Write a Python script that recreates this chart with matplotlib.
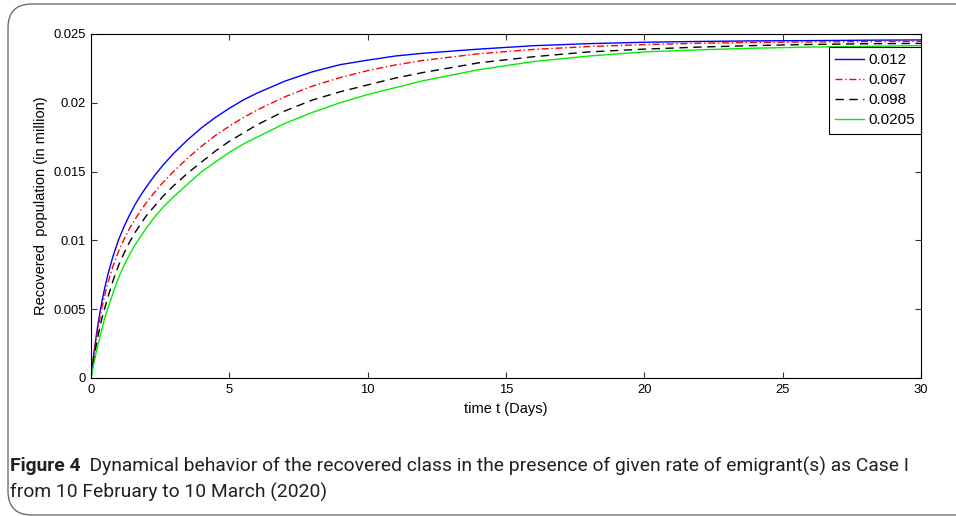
import matplotlib
matplotlib.use("Agg")
import matplotlib.pyplot as plt
from matplotlib.patches import FancyBboxPatch

# ---- data ----
t_days = [0, 0.05, 0.1, 0.2, 0.3, 0.4, 0.5, 0.6, 0.8, 1.0, 1.2, 1.4, 1.6, 1.8, 2.0, 2.3, 2.6,
          3.0, 3.5, 4.0, 4.5, 5.0, 5.5, 6, 7, 8, 9, 10, 11, 12, 14, 16, 18, 20, 22, 24, 26,
          28, 30]
r_012 = [0, 0.0009, 0.00173, 0.00322, 0.00449, 0.00561, 0.00658, 0.00744, 0.00888, 0.01006,
         0.01103, 0.01187, 0.01263, 0.01329, 0.01389, 0.01472, 0.01546, 0.01635, 0.01732,
         0.01819, 0.01894, 0.0196, 0.0202, 0.0207, 0.02157, 0.02225, 0.02277, 0.0231,
         0.0234, 0.0236, 0.0239, 0.02415, 0.0243, 0.0244, 0.02446, 0.0245, 0.02452,
         0.02455, 0.02457]
r_067 = [0, 0.00083, 0.0016, 0.00297, 0.00414, 0.00517, 0.00605, 0.00685, 0.00816, 0.00922,
         0.01011, 0.01089, 0.01156, 0.01219, 0.01274, 0.0135, 0.01421, 0.01504, 0.01599,
         0.01685, 0.01763, 0.0183, 0.01892, 0.01947, 0.02043, 0.02121, 0.02183, 0.02234,
         0.02275, 0.02308, 0.02356, 0.02388, 0.02409, 0.02423, 0.02433, 0.02439, 0.02442,
         0.02445, 0.02447]
r_098 = [0, 0.0007, 0.0013, 0.0025, 0.0035, 0.0044, 0.0051, 0.0058, 0.0071, 0.0082, 0.0091,
         0.0099, 0.0106, 0.0112, 0.0118, 0.0125, 0.0132, 0.0140, 0.0149, 0.0157, 0.0165,
         0.0172, 0.0178, 0.0184, 0.0194, 0.0202, 0.0208, 0.0213, 0.0218, 0.0222, 0.0229,
         0.02335, 0.0237, 0.0239, 0.02405, 0.02416, 0.02424, 0.02429, 0.02432]
r_0205 = [0, 0.0005, 0.0010, 0.0020, 0.0028, 0.0036, 0.0044, 0.0050, 0.0062, 0.0073, 0.0082,
          0.0090, 0.0097, 0.0103, 0.0109, 0.0117, 0.0124, 0.0132, 0.0141, 0.0150, 0.0157,
          0.0164, 0.0170, 0.0175, 0.0185, 0.0193, 0.0200, 0.0206, 0.0211, 0.0216, 0.0224,
          0.0230, 0.0234, 0.0237, 0.02385, 0.02397, 0.02405, 0.0241, 0.02416]
labels = ["0.012", "0.067", "0.098", "0.0205"]
x_ticks = [0, 5, 10, 15, 20, 25, 30]
y_ticks = [0, 0.005, 0.01, 0.015, 0.02, 0.025]
y_tick_labels = ["0", "0.005", "0.01", "0.015", "0.02", "0.025"]
x_label = "time t (Days)"
y_label = "Recovered  population (in million)"
cap_bold = "Figure 4"
cap_line1 = "  Dynamical behavior of the recovered class in the presence of given rate of emigrant(s) as Case I"
cap_line2 = "from 10 February to 10 March (2020)"

W, H = 956, 516
fig = plt.figure(figsize=(W / 100, H / 100), dpi=100)
fig.patch.set_facecolor("white")

# outer rounded frame
frame = FancyBboxPatch((8 / W, 1 / H), 980 / W, 511 / H,
                       boxstyle="round,pad=0,rounding_size=0.025",
                       transform=fig.transFigure, facecolor="none",
                       edgecolor="#6e6e6e", linewidth=1.0, mutation_aspect=W / H)
fig.patches.append(frame)

ax = fig.add_axes([91 / W, 1 - 378 / H, 830 / W, 344 / H])
font = ["Liberation Sans", "DejaVu Sans"]

ax.plot(t_days, r_012, color="#0000ff", lw=1.0, ls="-", label=labels[0])
ax.plot(t_days, r_067, color="#ff0000", lw=1.0, ls=(0, (5, 2, 1, 2)), label=labels[1])
ax.plot(t_days, r_098, color="#000000", lw=1.0, ls=(0, (6, 4)), label=labels[2])
ax.plot(t_days, r_0205, color="#00ee00", lw=1.0, ls="-", label=labels[3])

ax.set_xlim(0, 30)
ax.set_ylim(0, 0.025)
ax.set_xticks(x_ticks)
ax.set_xticklabels([str(v) for v in x_ticks], fontfamily=font, fontsize=9.4)
ax.set_yticks(y_ticks)
ax.set_yticklabels(y_tick_labels, fontfamily=font, fontsize=9.4)
ax.tick_params(direction="in", length=4, width=0.8, top=True, right=True,
               color="#333333", pad=4)
for s in ax.spines.values():
    s.set_linewidth(0.8)
ax.set_xlabel(x_label, fontfamily=font, fontsize=10.5, labelpad=5)
ax.set_ylabel(y_label, fontfamily=font, fontsize=10.5, labelpad=4)

leg = ax.legend(loc="upper right", bbox_to_anchor=(1.0, 1 - 13 / 344),
                borderaxespad=0, fancybox=False, framealpha=1, edgecolor="black",
                prop={"family": font, "size": 11}, handlelength=1.85,
                labelspacing=0.4, borderpad=0.4, handletextpad=0.3)
leg.get_frame().set_linewidth(0.8)

# caption
capfont = ["Roboto", "DejaVu Sans"]
tb = fig.text(10 / W, 1 - 466 / H, cap_bold, fontfamily=capfont, fontweight="bold",
              fontsize=10.5, va="center", ha="left", color="#231f20")
fig.canvas.draw()
r = fig.canvas.get_renderer()
bb = tb.get_window_extent(r)
t1 = fig.text(bb.x1 / W, 1 - 466 / H, cap_line1, fontfamily=capfont,
              fontsize=10.5, va="center", ha="left", color="#231f20")
t2 = fig.text(10 / W, 1 - 492 / H, cap_line2, fontfamily=capfont,
              fontsize=10.5, va="center", ha="left", color="#231f20")
fig.canvas.draw()
bb1 = t1.get_window_extent(r)
target = 912
scale = (target - 10) / (bb1.x1 - 10)
for t in (tb, t1, t2):
    t.set_fontsize(10.5 * scale)
fig.canvas.draw()
bb = tb.get_window_extent(r)
t1.set_x(bb.x1 / W)

fig.savefig("out.png", dpi=100)
